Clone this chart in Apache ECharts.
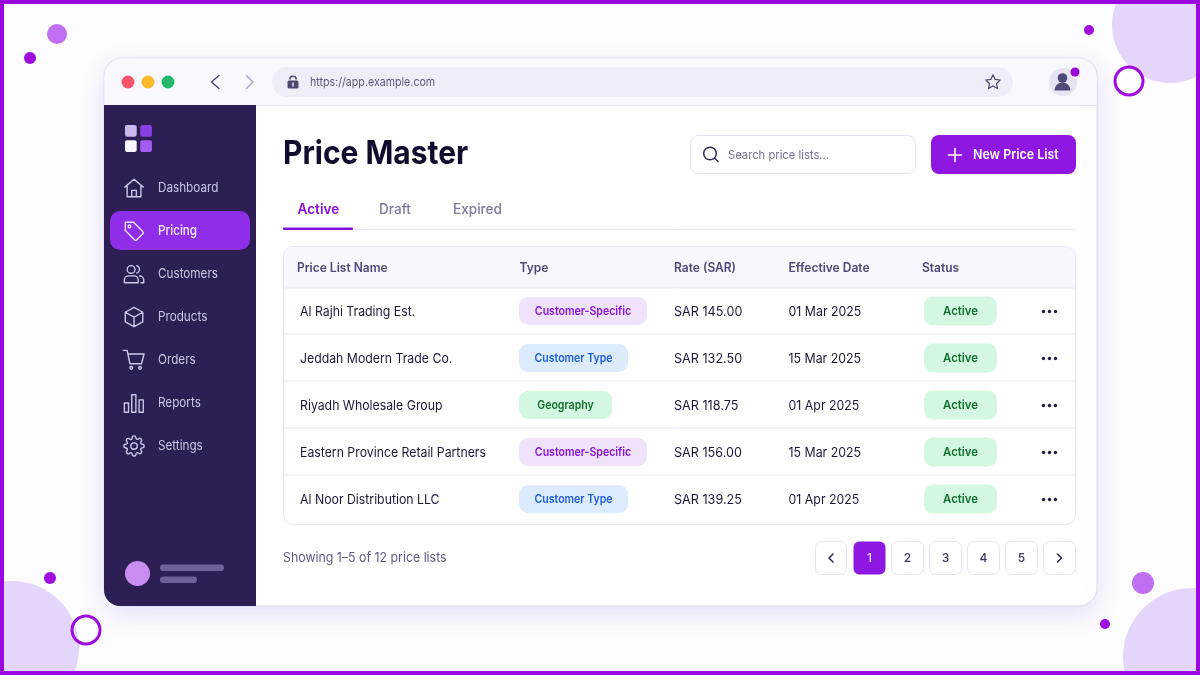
<!DOCTYPE html>
<html>
<head>
<meta charset="utf-8">
<title>Price Master</title>
<script src="https://cdn.jsdelivr.net/npm/echarts@6/dist/echarts.min.js"></script>
<style>
html, body { margin: 0; padding: 0; background: #fdfcff; }
#main { width: 1200px; height: 675px; }
</style>
</head>
<body>
<div id="main"></div>
<script>
// table data
var priceLists = ['Al Rajhi Trading Est.', 'Jeddah Modern Trade Co.', 'Riyadh Wholesale Group', 'Eastern Province Retail Partners', 'Al Noor Distribution LLC'];
var listTypes = ['Customer-Specific', 'Customer Type', 'Geography', 'Customer-Specific', 'Customer Type'];
var rates = [145.00, 132.50, 118.75, 156.00, 139.25];
var effectiveDates = ['01 Mar 2025', '15 Mar 2025', '01 Apr 2025', '15 Mar 2025', '01 Apr 2025'];
var statuses = ['Active', 'Active', 'Active', 'Active', 'Active'];
var tableHeaders = ['Price List Name', 'Type', 'Rate (SAR)', 'Effective Date', 'Status'];

// navigation and small labels
var navItems = ['Dashboard', 'Pricing', 'Customers', 'Products', 'Orders', 'Reports', 'Settings'];
var navIcons = ['home', 'tag', 'users', 'box', 'cart', 'bars', 'gear'];
var activeNav = 'Pricing';
var tabs = ['Active', 'Draft', 'Expired'];
var pages = ['1', '2', '3', '4', '5'];

var FONT = 'Inter, "Noto Sans", sans-serif';
var PURPLE = '#8f17e2';
var typeStyle = {
    'Customer-Specific': { w: 128, bg: '#eee3fb', fg: '#8a12d6' },
    'Customer Type': { w: 109, bg: '#dcebfd', fg: '#1f5fd6' },
    'Geography': { w: 93, bg: '#d3f7e1', fg: '#12702f' }
};
var iconPaths = {
    home: 'M2 11 12 2.5 22 11 M4.5 9V21.5H19.5V9 M9.5 21.5V14.5H14.5V21.5',
    tag: 'M2.5 2.5H11.5L21.5 12.5A1.6 1.6 0 0 1 21.5 15L15 21.5A1.6 1.6 0 0 1 12.5 21.5L2.5 11.5Z M8.5 7A1.5 1.5 0 1 1 5.5 7A1.5 1.5 0 1 1 8.5 7',
    users: 'M13 7A4.2 4.2 0 1 1 4.6 7A4.2 4.2 0 1 1 13 7 M1.5 21.5V18.5A4.5 4.5 0 0 1 6 14H12A4.5 4.5 0 0 1 16.5 18.5V21.5Z M15 3A4.2 4.2 0 0 1 15 11 M18 14.2A4.5 4.5 0 0 1 22.5 18.5V21.5H19.5',
    box: 'M12 1.5 21.5 6.8V17.2L12 22.5 2.5 17.2V6.8Z M2.5 6.8 12 12 21.5 6.8 M12 12V22.5',
    cart: 'M0.5 1.5H4.5L7.5 16H20L23 5.5H5.5 M10.5 20.5A1.5 1.5 0 1 1 7.5 20.5A1.5 1.5 0 1 1 10.5 20.5 M20 20.5A1.5 1.5 0 1 1 17 20.5A1.5 1.5 0 1 1 20 20.5',
    bars: 'M1.5 22V12H6V22Z M9.5 22V3H14V22Z M17.5 22V8.5H22V22Z',
    gear: 'M15.5 12A3.5 3.5 0 1 1 8.5 12A3.5 3.5 0 1 1 15.5 12 M19.4 15a1.65 1.65 0 0 0 .33 1.82l.06.06a2 2 0 0 1 0 2.83 2 2 0 0 1-2.83 0l-.06-.06a1.65 1.65 0 0 0-1.82-.33 1.65 1.65 0 0 0-1 1.51V21a2 2 0 0 1-2 2 2 2 0 0 1-2-2v-.09A1.65 1.65 0 0 0 9 19.4a1.65 1.65 0 0 0-1.82.33l-.06.06a2 2 0 0 1-2.83 0 2 2 0 0 1 0-2.83l.06-.06a1.65 1.65 0 0 0 .33-1.82 1.65 1.65 0 0 0-1.51-1H3a2 2 0 0 1-2-2 2 2 0 0 1 2-2h.09A1.65 1.65 0 0 0 4.6 9a1.65 1.65 0 0 0-.33-1.82l-.06-.06a2 2 0 0 1 0-2.83 2 2 0 0 1 2.83 0l.06.06a1.65 1.65 0 0 0 1.82.33H9a1.65 1.65 0 0 0 1-1.51V3a2 2 0 0 1 2-2 2 2 0 0 1 2 2v.09a1.65 1.65 0 0 0 1 1.51 1.65 1.65 0 0 0 1.82-.33l.06-.06a2 2 0 0 1 2.83 0 2 2 0 0 1 0 2.83l-.06.06a1.65 1.65 0 0 0-.33 1.82V9a1.65 1.65 0 0 0 1.51 1H21a2 2 0 0 1 2 2 2 2 0 0 1-2 2h-.09a1.65 1.65 0 0 0-1.51 1z'
};

function rect(x, y, w, h, r, fill, extra) {
    var st = Object.assign({ fill: fill }, extra || {});
    return { type: 'rect', shape: { x: x, y: y, width: w, height: h, r: r }, style: st };
}
function dot(cx, cy, r, fill) {
    return { type: 'circle', shape: { cx: cx, cy: cy, r: r }, style: { fill: fill } };
}
function ring(cx, cy, r, stroke, lw) {
    return { type: 'circle', shape: { cx: cx, cy: cy, r: r }, style: { fill: 'none', stroke: stroke, lineWidth: lw } };
}
// sx squeezes the text sideways, the reference font runs narrower than Inter
function label(text, x, y, font, fill, align, sx) {
    return {
        type: 'text',
        x: x,
        y: y + 1,
        scaleX: sx || 1,
        style: { text: text, x: 0, y: 0, font: font, fill: fill, textAlign: align || 'left', verticalAlign: 'middle' }
    };
}
function stroke(points, color, lw) {
    return { type: 'polyline', shape: { points: points }, style: { fill: 'none', stroke: color, lineWidth: lw, lineCap: 'round', lineJoin: 'round' } };
}

// decoration, window frame and the fixed parts of the screen
var els = [];
els.push(dot(1170, 25, 58, '#e4d6fb'), dot(12, 648, 67, '#e4d6fb'), dot(1192, 657, 69, '#e4d6fb'));
els.push(dot(57, 34, 10, '#c06ff2'), dot(30, 58, 6, '#a00be0'), dot(1089, 30, 5, '#a00be0'));
els.push(dot(50, 578, 6, '#a00be0'), dot(1143, 583, 11, '#c06ff2'), dot(1105, 624, 5, '#a00be0'));
els.push(ring(1129, 81, 14, '#a00be0', 3), ring(86, 630, 14, '#a00be0', 3));
els.push(rect(2, 2, 1196, 671, 0, 'none', { stroke: '#9a05e0', lineWidth: 4 }));

els.push(rect(104, 58, 993, 548, 18, '#ffffff', { stroke: '#dcd8f2', lineWidth: 1, shadowBlur: 26, shadowColor: 'rgba(110,80,200,0.16)', shadowOffsetY: 8 }));
els.push(rect(104.5, 58.5, 992, 47, [18, 18, 0, 0], '#f9f8fe'));
els.push({ type: 'line', shape: { x1: 104, y1: 105.5, x2: 1097, y2: 105.5 }, style: { stroke: '#e3e0f4', lineWidth: 1 } });
els.push(rect(104, 105, 152, 501, [0, 0, 0, 16], '#2d1f54'));

// browser bar
els.push(dot(128, 82, 6.5, '#fa5468'), dot(148, 82, 6.5, '#fdb82c'), dot(168, 82, 6.5, '#22b96c'));
els.push(stroke([[219, 75.5], [211.5, 82], [219, 88.5]], '#4a4670', 1.5), stroke([[246.5, 75.5], [253, 82], [246.5, 88.5]], '#a9a6c8', 1.5));
els.push(rect(272, 67, 741, 30, 15, '#eeedf8'));
els.push(rect(287.5, 80.5, 11, 8, 1.5, '#4d4872'), { type: 'arc', shape: { cx: 293, cy: 79.5, r: 3.2, startAngle: Math.PI, endAngle: 0 }, style: { fill: 'none', stroke: '#4d4872', lineWidth: 1.6 } });
els.push(stroke([[293, 83], [293, 86]], '#eeedf8', 1.4));
els.push(label('https://app.example.com', 310, 81.5, '12px ' + FONT, '#5b5779', 'left', 0.887));
els.push({ type: 'polygon', shape: { points: [[993, 74.8], [995.2, 79.4], [1000.2, 80], [996.5, 83.5], [997.5, 88.5], [993, 86], [988.5, 88.5], [989.5, 83.5], [985.8, 80], [990.8, 79.4]] }, style: { fill: 'none', stroke: '#4d4872', lineWidth: 1.2, lineJoin: 'round' } });
els.push(dot(1063, 82, 14, '#e6e4f3'), dot(1062.5, 78, 4.8, '#4f4a78'));
els.push({ type: 'sector', shape: { cx: 1062.5, cy: 90.5, r: 8, r0: 0, startAngle: Math.PI, endAngle: 0 }, style: { fill: '#4f4a78' } });
els.push(dot(1075, 72, 4.5, '#9b05d8'));

// sidebar logo and user
els.push(rect(125, 125, 11.7, 11.7, 2, '#c9b8ec'), rect(140.2, 125, 11.7, 11.7, 2, '#8a3fe2'), rect(125, 140.3, 11.7, 11.7, 2, '#f8f6ff'), rect(140.2, 140.3, 11.7, 11.7, 2, '#a45df0'));
els.push(dot(137.5, 573.5, 12.5, '#c98df1'), rect(160, 564.5, 64, 6.5, 3.2, '#6f6097'), rect(160, 576.5, 37, 6.5, 3.2, '#6f6097'));

// page head
els.push(label('Price Master', 283, 153, '700 33px ' + FONT, '#100c2e', 'left', 0.907));
els.push(rect(690.5, 135.5, 225, 38, 8, '#ffffff', { stroke: '#e4e2f2', lineWidth: 1 }));
els.push(ring(710, 153.5, 6.3, '#2f2a55', 1.5), stroke([[714.8, 158.3], [718, 161.5]], '#2f2a55', 1.5));
els.push(label('Search price lists...', 728, 154, '12px ' + FONT, '#75719a', 'left', 0.935));
els.push(rect(931, 135, 145, 39, 8, PURPLE));
els.push(stroke([[948.5, 155], [961.5, 155]], '#ffffff', 1.6), stroke([[955, 148.5], [955, 161.5]], '#ffffff', 1.6));
els.push(label('New Price List', 973, 154, '600 13.5px ' + FONT, '#ffffff', 'left', 0.92));

// tabs
var tabX = [297.5, 379, 453];
tabs.forEach(function (t, i) {
    els.push(label(t, tabX[i], 208.5, (i === 0 ? '600 14px ' : '500 14px ') + FONT, i === 0 ? '#8a0fd8' : '#7d799c', 'left', 0.97));
});
els.push({ type: 'line', shape: { x1: 283, y1: 229.5, x2: 1076, y2: 229.5 }, style: { stroke: '#e8e6f5', lineWidth: 1 } });
els.push(rect(283, 227.5, 70, 2.5, 1, '#8a0fd8'));

// table shell and header
els.push(rect(283.5, 246.5, 792, 278, 10, '#ffffff', { stroke: '#e6e4f4', lineWidth: 1 }));
els.push(rect(284, 247, 791, 41, [10, 10, 0, 0], '#f8f7fd'));
els.push({ type: 'line', shape: { x1: 284, y1: 288, x2: 1075, y2: 288 }, style: { stroke: '#ecebf7', lineWidth: 1 } });
var headerX = [297, 519.5, 674, 788.5, 922];
tableHeaders.forEach(function (h, i) {
    els.push(label(h, headerX[i], 267, '600 12.5px ' + FONT, '#4d4878', 'left', 0.96));
});

// footer
els.push(label('Showing 1\u20135 of 12 price lists', 283, 557.5, '13px ' + FONT, '#5f5a85', 'left', 0.95));
function pageButton(x, w, active) {
    return rect(x + 0.5, 541.5, w - 1, 33, 6, active ? PURPLE : '#ffffff', active ? {} : { stroke: '#e6e4f4', lineWidth: 1 });
}
els.push(pageButton(815, 32), stroke([[833, 554], [829, 558], [833, 562]], '#2f2a55', 1.6));
pages.forEach(function (p, i) {
    var x = 853 + i * 38;
    els.push(pageButton(x, 33, i === 0));
    els.push(label(p, x + 16.5, 557.5, '500 12px ' + FONT, i === 0 ? '#f1dcff' : '#3a3560', 'center'));
});
els.push(pageButton(1043, 33), stroke([[1057.5, 554], [1061.5, 558], [1057.5, 562]], '#2f2a55', 1.6));

function renderRow(params, api) {
    var i = api.value(1);
    var y = api.coord([0, i])[1];
    var children = [];
    var type = listTypes[i];
    var ts = typeStyle[type];
    children.push(label(priceLists[i], 300, y - 0.5, '13.5px ' + FONT, '#1c1838', 'left', 0.91));
    children.push(rect(519, y - 14, ts.w, 28, 9, ts.bg));
    children.push(label(type, 519 + ts.w / 2, y - 0.5, '600 12px ' + FONT, ts.fg, 'center', 0.88));
    children.push(label('SAR ' + rates[i].toFixed(2), 674, y - 0.5, '13.5px ' + FONT, '#1c1838', 'left', 0.935));
    children.push(label(effectiveDates[i], 788.5, y - 0.5, '13.5px ' + FONT, '#1c1838', 'left', 0.915));
    children.push(rect(924, y - 14.5, 73, 29, 9, '#d3f7e1'));
    children.push(label(statuses[i], 960.5, y - 0.5, '600 12px ' + FONT, '#10702f', 'center', 0.95));
    children.push(dot(1043.5, y + 0.5, 1.7, '#1f1a44'), dot(1049.5, y + 0.5, 1.7, '#1f1a44'), dot(1055.5, y + 0.5, 1.7, '#1f1a44'));
    if (i < priceLists.length - 1) {
        children.push({ type: 'line', shape: { x1: 284, y1: y + 23, x2: 1075, y2: y + 23 }, style: { stroke: '#e8e6f5', lineWidth: 1 } });
    }
    return { type: 'group', children: children };
}

function renderNav(params, api) {
    var i = api.value(1);
    var y = api.coord([0, i])[1];
    var active = navItems[i] === activeNav;
    var children = [];
    if (active) {
        children.push(rect(110, y - 20, 140, 39, 10, '#8e2ee9'));
    }
    children.push({
        type: 'path',
        x: 123,
        y: y - 11,
        scaleX: 0.92,
        scaleY: 0.92,
        shape: { pathData: iconPaths[navIcons[i]] },
        style: { fill: 'none', stroke: active ? '#f1e6ff' : '#cfc7ea', lineWidth: 1.5, lineJoin: 'round', lineCap: 'round' }
    });
    children.push(label(navItems[i], 158, y - 0.5, (active ? '500 ' : '400 ') + '13px ' + FONT, active ? '#f6eeff' : '#cdc6e6', 'left', 0.9));
    return { type: 'group', children: children };
}

var myChart = echarts.init(document.getElementById('main'));
var option = {
    animation: false,
    backgroundColor: '#fdfcff',
    graphic: { elements: els },
    grid: [
        { left: 283, top: 287.5, width: 793, height: 235 },
        { left: 104, top: 166.5, width: 152, height: 301 }
    ],
    xAxis: [
        { type: 'value', gridIndex: 0, min: 0, max: 1, show: false },
        { type: 'value', gridIndex: 1, min: 0, max: 1, show: false }
    ],
    yAxis: [
        { type: 'category', gridIndex: 0, inverse: true, data: priceLists, show: false },
        { type: 'category', gridIndex: 1, inverse: true, data: navItems, show: false }
    ],
    series: [
        {
            type: 'custom',
            name: 'Price lists',
            xAxisIndex: 0,
            yAxisIndex: 0,
            clip: false,
            renderItem: renderRow,
            data: priceLists.map(function (n, i) { return [0, i]; })
        },
        {
            type: 'custom',
            name: 'Navigation',
            xAxisIndex: 1,
            yAxisIndex: 1,
            clip: false,
            renderItem: renderNav,
            data: navItems.map(function (n, i) { return [0, i]; })
        }
    ]
};
myChart.setOption(option);
</script>
</body>
</html>
